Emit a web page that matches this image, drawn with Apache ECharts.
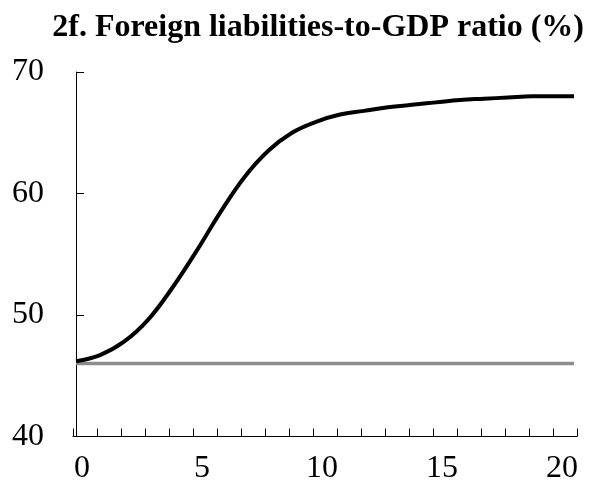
<!DOCTYPE html>
<html><head><meta charset="utf-8">
<script src="https://cdn.jsdelivr.net/npm/echarts@6/dist/echarts.min.js"></script>
<style>html,body{margin:0;padding:0;background:#fff}#c{width:593px;height:485px}</style>
</head><body><div id="c"></div>
<script>
const titleText = '2f. Foreign liabilities-to-GDP ratio (%)';
const xCategories = ['0','1','2','3','4','5','6','7','8','9','10','11','12','13','14','15','16','17','18','19','20'];
const years = [0,1,2,3,4,5,6,7,8,9,10,11,12,13,14,15,16,17,18,19,20,20.75];
const scenario = [46.2,46.7,47.8,49.6,52.2,55.2,58.4,61.3,63.5,65.0,65.9,66.5,66.8,67.1,67.3,67.5,67.7,67.8,67.9,68.0,68.0,68.0];
const baselineYears = [0, 20.75];
const baseline = [46.0, 46.0];
const yMin = 40, yMax = 70, yStep = 10;

const pairs = (xs, ys) => xs.map((x, i) => [x, ys[i]]);
const font = 'Liberation Serif, Times New Roman, serif';

const chart = echarts.init(document.getElementById('c'), null, {renderer: 'canvas'});
chart.setOption({
  animation: false,
  backgroundColor: '#fff',
  title: {
    text: titleText, right: 4, top: 7,
    textStyle: {fontFamily: font, fontWeight: 'bold', fontSize: 32, color: '#000'}
  },
  grid: {left: 73, right: 16, top: 72, bottom: 48.5, containLabel: false},
  xAxis: [{
    type: 'category', data: xCategories, boundaryGap: true, position: 'bottom',
    axisLine: {show: true, lineStyle: {color: '#000', width: 1}},
    axisTick: {show: true, inside: true, length: 8, interval: 0, lineStyle: {color: '#000'}},
    axisLabel: {
      interval: (i) => i % 5 === 0,
      fontFamily: font, fontSize: 32, color: '#000', margin: 16, padding: [0, 6, 0, 0]
    },
    splitLine: {show: false}
  }, {
    type: 'value', min: -0.125, max: 20.875, show: false
  }],
  yAxis: {
    type: 'value', min: yMin, max: yMax, interval: yStep,
    axisLine: {show: true, lineStyle: {color: '#000', width: 1}},
    axisTick: {show: true, inside: true, length: 8, lineStyle: {color: '#000'}},
    axisLabel: {fontFamily: font, fontSize: 32, color: '#000', margin: 29},
    splitLine: {show: false}
  },
  series: [{
    type: 'line', xAxisIndex: 1, data: pairs(baselineYears, baseline),
    symbol: 'none', lineStyle: {color: '#8c8c8c', width: 3.5}
  }, {
    type: 'line', xAxisIndex: 1, data: pairs(years, scenario), smooth: 0.4,
    symbol: 'none', lineStyle: {color: '#000', width: 4}
  }]
});
</script></body></html>
